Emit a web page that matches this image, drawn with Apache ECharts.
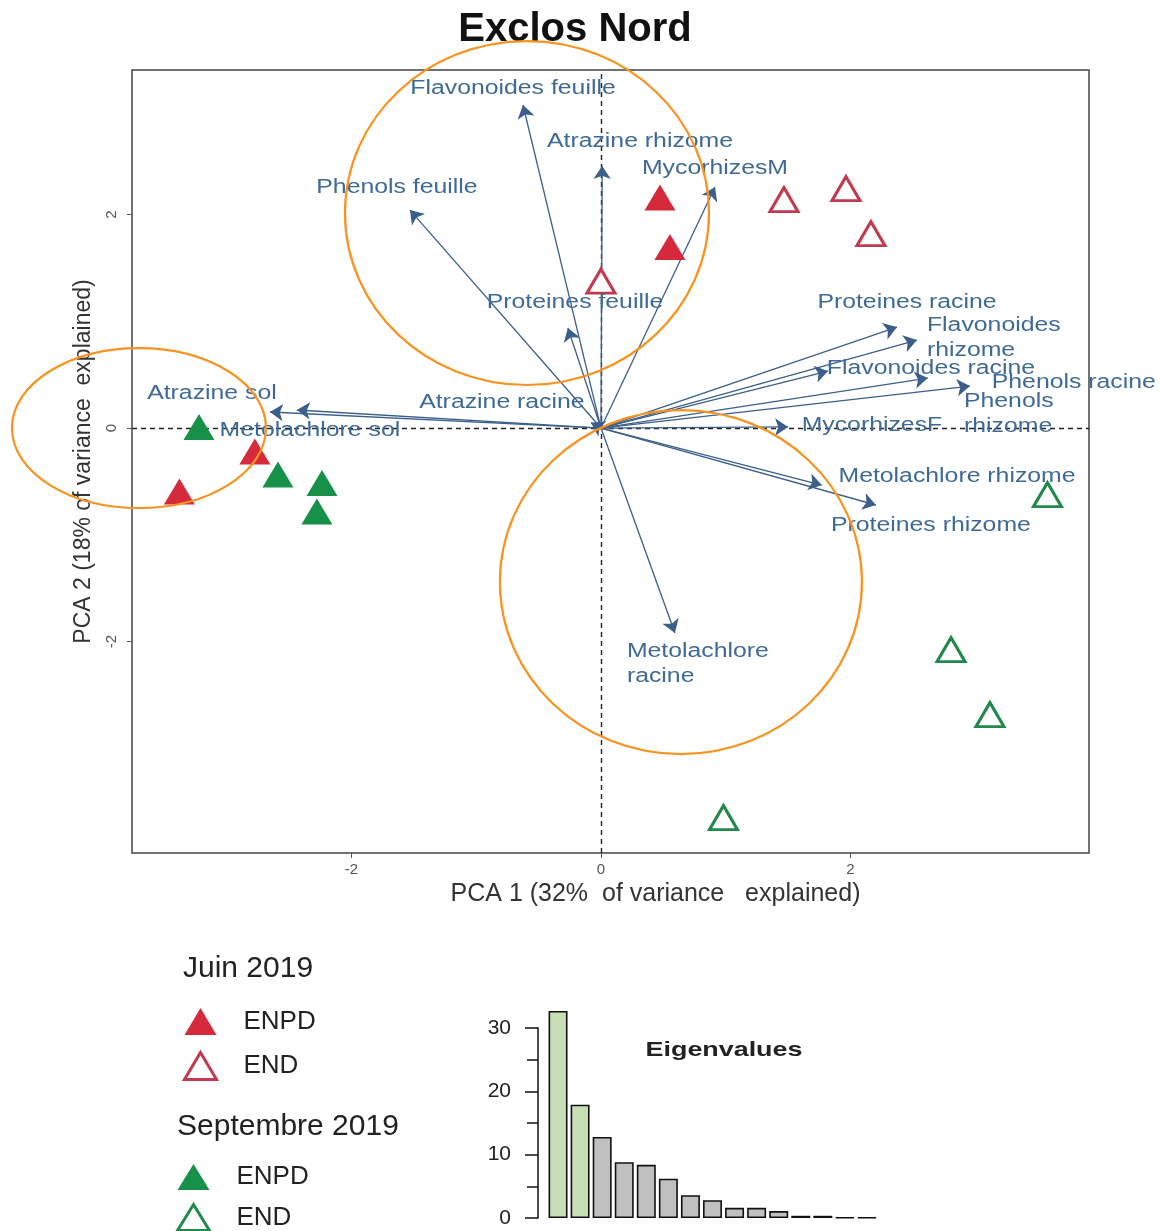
<!DOCTYPE html>
<html>
<head>
<meta charset="utf-8">
<script src="https://cdn.jsdelivr.net/npm/echarts@6/dist/echarts.min.js"></script>
<style>html,body{margin:0;padding:0;background:#fff}#chart{width:1162px;height:1231px}</style>
</head>
<body>
<div id="chart"></div>
<script>
// ---------------- DATA ----------------
var titleText = 'Exclos Nord';
var xAxisName = 'PCA 1 (32%  of variance   explained)';
var yAxisName = 'PCA 2 (18% of variance  explained)';
var pcaTicks = [-2, 0, 2];

// sample scores [PC1, PC2]
var juinENPD = [[0.473, 2.159], [0.553, 1.696], [-2.774, -0.22], [-3.379, -0.595]];
var juinEND  = [[0.0, 1.377], [1.467, 2.14], [1.964, 2.243], [2.164, 1.822]];
var septENPD = [[-3.222, 0.01], [-2.589, -0.436], [-2.236, -0.515], [-2.277, -0.782]];
var septEND  = [[3.579, -0.623], [2.806, -2.075], [3.118, -2.684], [0.982, -3.649]];

// variable loadings (arrow tips)
var variables = ['Flavonoides feuille', 'Atrazine rhizome', 'MycorhizesM', 'Phenols feuille',
  'Proteines feuille', 'Atrazine sol', 'Metolachlore sol', 'Atrazine racine', 'Proteines racine',
  'Flavonoides rhizome', 'Flavonoides racine', 'Phenols racine', 'Phenols rhizome', 'MycorhizesF',
  'Metolachlore rhizome', 'Proteines rhizome', 'Metolachlore racine'];
var loadPC1 = [-0.625, 0.01, 0.914, -1.531, -0.265, -2.653, -2.437, -0.08, 2.373, 2.533, 2.62, 2.958, 1.82, 1.5, 1.77, 2.204, 0.593];
var loadPC2 = [3.026, 2.454, 2.258, 2.042, 0.937, 0.15, 0.169, 0.05, 0.946, 0.824, 0.468, 0.393, 0.534, 0.01, -0.534, -0.721, -1.92];

// eigenvalues (bar inset)
var eigenvalues = [32.7, 17.9, 12.8, 8.8, 8.4, 6.2, 3.6, 2.8, 1.6, 1.6, 1.1, 0.35, 0.35, 0.1, 0.1];
var eigenAxes = ['1','2','3','4','5','6','7','8','9','10','11','12','13','14','15'];

// legend
var legendGroups = ['Juin 2019', 'Septembre 2019'];

// ---------------- LAYOUT / STYLE ----------------
var FONT = "'Liberation Sans', Arial, sans-serif";
var X_MIN = -3.759, X_MAX = 3.912, Y_MIN = -3.981, Y_MAX = 3.354;

// label anchors in data units (text placement), alignment and display text
var labelAnchors = [[-0.705, 3.185], [0.313, 2.689], [0.914, 2.436], [-1.635, 2.258], [-0.208, 1.18],
  [-3.118, 0.328], [-2.333, -0.019], [-0.794, 0.244], [2.453, 1.18], [2.613, 0.848], [2.645, 0.562],
  [3.79, 0.431], [2.91, 0.131], [2.172, 0.028], [2.854, -0.45], [2.645, -0.909], [0.208, -2.211]];
var labelAlign = ['center','center','center','center','center','center','center','center','center',
  'left','center','center','left','center','center','center','left'];
var labelText = variables.map(function (v) {
  if (v === 'Flavonoides rhizome') return 'Flavonoides\nrhizome';
  if (v === 'Phenols rhizome') return 'Phenols\nrhizome';
  if (v === 'Metolachlore racine') return 'Metolachlore\nracine';
  return v;
});

// orange highlight ellipses [cx, cy, rx, ry] in data units
var highlights = [[-0.593, 2.014, 1.459, 1.611], [-3.703, 0.0, 1.018, 0.749], [0.641, -1.443, 1.451, 1.611]];

var RED = '#d42a3c', RED_OPEN = '#c23a50', GREEN = '#17914a', GREEN_OPEN = '#22884b';

var chart = echarts.init(document.getElementById('chart'), null, {renderer: 'canvas'});

var option = {
  backgroundColor: '#fff',
  animation: false,
  textStyle: {fontFamily: FONT},
  title: [{
    text: titleText, left: 570, textAlign: 'center', top: 5,
    textStyle: {fontSize: 40, fontWeight: 'bold', color: '#111', fontFamily: FONT}
  }],
  legend: [{
    data: [{name: 'Juin ENPD', itemStyle: {color: RED}},
           {name: 'Juin END', itemStyle: {color: '#fff', borderColor: RED_OPEN, borderWidth: 3}}],
    orient: 'vertical', left: 183, top: 1008, height: 90, padding: 0, itemWidth: 32, itemHeight: 27, itemGap: 16,
    selectedMode: false,
    formatter: function (n) { return n.split(' ')[1]; },
    textStyle: {fontSize: 26, color: '#222', lineHeight: 27, padding: [0, 0, 0, 22], fontFamily: FONT}
  }, {
    data: [{name: 'Sept ENPD', itemStyle: {color: GREEN}},
           {name: 'Sept END', itemStyle: {color: '#fff', borderColor: GREEN_OPEN, borderWidth: 3}}],
    orient: 'vertical', left: 176, top: 1164, height: 90, padding: 0, itemWidth: 32, itemHeight: 26, itemGap: 13,
    selectedMode: false,
    formatter: function (n) { return n.split(' ')[1]; },
    textStyle: {fontSize: 26, color: '#222', lineHeight: 26, padding: [0, 0, 0, 22], fontFamily: FONT}
  }],
  graphic: [
    {type: 'text', x: 183, y: 969, style: {text: legendGroups[0], font: '30px ' + FONT, fill: '#222', align: 'left', verticalAlign: 'middle'}},
    {type: 'text', x: 177, y: 1127, style: {text: legendGroups[1], font: '30px ' + FONT, fill: '#222', align: 'left', verticalAlign: 'middle'}},
    {type: 'text', x: 724, y: 1050, scaleX: 1.28, style: {text: 'Eigenvalues', font: 'bold 21px ' + FONT, fill: '#222', align: 'center', verticalAlign: 'middle'}}
  ],
  grid: [
    {left: 132, top: 70, width: 957, height: 783, show: true, borderColor: '#444', borderWidth: 1.5, backgroundColor: 'transparent'},
    {left: 547, top: 1028, width: 331, height: 190}
  ],
  xAxis: [{
    type: 'value', gridIndex: 0, min: X_MIN, max: X_MAX,
    axisLine: {show: false, onZero: false}, splitLine: {show: false},
    axisTick: {show: true, length: 5, customValues: pcaTicks, lineStyle: {color: '#555'}},
    axisLabel: {customValues: pcaTicks, color: '#555', fontSize: 15, margin: 9, fontFamily: FONT},
    name: xAxisName, nameLocation: 'middle', nameGap: 24,
    nameTextStyle: {fontSize: 25, color: '#333', padding: [0, 0, 0, 90], fontFamily: FONT}
  }, {
    type: 'category', gridIndex: 1, data: eigenAxes, show: false
  }],
  yAxis: [{
    type: 'value', gridIndex: 0, min: Y_MIN, max: Y_MAX,
    axisLine: {show: false, onZero: false}, splitLine: {show: false},
    axisTick: {show: true, length: 5, customValues: pcaTicks, lineStyle: {color: '#555'}},
    axisLabel: {customValues: pcaTicks, rotate: 90, color: '#555', fontSize: 15, margin: 13, fontFamily: FONT},
    name: yAxisName, nameLocation: 'middle', nameGap: 37,
    nameTextStyle: {fontSize: 23, color: '#333', fontFamily: FONT}
  }, {
    type: 'value', gridIndex: 1, min: 0, max: 30, interval: 10, offset: 9,
    axisLine: {show: true, onZero: false, lineStyle: {color: '#111', width: 1.5}},
    axisTick: {show: true, length: 13, lineStyle: {color: '#111', width: 1.5}},
    minorTick: {show: true, splitNumber: 2, length: 11, lineStyle: {color: '#111', width: 1.5}},
    splitLine: {show: false}, minorSplitLine: {show: false},
    axisLabel: {fontSize: 21, color: '#222', margin: 27, fontFamily: FONT}
  }],
  series: [
    // dashed zero lines
    {
      type: 'lines', coordinateSystem: 'cartesian2d', xAxisIndex: 0, yAxisIndex: 0, z: 1, silent: true,
      symbol: 'none',
      lineStyle: {color: '#222', width: 1.4, type: [5, 4], opacity: 1},
      data: [{coords: [[0, Y_MIN], [0, Y_MAX]]}, {coords: [[X_MIN, 0], [X_MAX, 0]]}]
    },
    // variable arrows
    {
      type: 'lines', coordinateSystem: 'cartesian2d', xAxisIndex: 0, yAxisIndex: 0, z: 2, silent: true,
      symbol: ['none', 'arrow'], symbolSize: 13,
      lineStyle: {color: '#3b5f8a', width: 1.3, opacity: 1},
      data: variables.map(function (v, i) { return {name: v, coords: [[0, 0], [loadPC1[i], loadPC2[i]]]}; })
    },
    {name: 'Juin ENPD', type: 'scatter', xAxisIndex: 0, yAxisIndex: 0, z: 3, symbol: 'triangle', symbolSize: [31, 26],
      itemStyle: {color: RED, opacity: 1}, data: juinENPD},
    {name: 'Juin END', type: 'scatter', xAxisIndex: 0, yAxisIndex: 0, z: 3, symbol: 'triangle', symbolSize: [28, 24],
      itemStyle: {color: '#fff', borderColor: RED_OPEN, borderWidth: 3, opacity: 1}, data: juinEND},
    {name: 'Sept ENPD', type: 'scatter', xAxisIndex: 0, yAxisIndex: 0, z: 3, symbol: 'triangle', symbolSize: [31, 26],
      itemStyle: {color: GREEN, opacity: 1}, data: septENPD},
    {name: 'Sept END', type: 'scatter', xAxisIndex: 0, yAxisIndex: 0, z: 3, symbol: 'triangle', symbolSize: [28, 24],
      itemStyle: {color: '#fff', borderColor: GREEN_OPEN, borderWidth: 3, opacity: 1}, data: septEND},
    // variable labels
    {
      type: 'custom', coordinateSystem: 'cartesian2d', xAxisIndex: 0, yAxisIndex: 0, z: 5, silent: true, clip: false,
      data: labelAnchors.map(function (p, i) { return [p[0], p[1], i]; }),
      renderItem: function (params, api) {
        var i = api.value(2);
        var p = api.coord([api.value(0), api.value(1)]);
        return {
          type: 'text', x: p[0], y: p[1], scaleX: 1.24,
          style: {text: labelText[i], fill: '#3f6a96', font: '20px ' + FONT,
                  align: labelAlign[i], verticalAlign: 'middle', lineHeight: 25}
        };
      }
    },
    // orange highlight ellipses
    {
      type: 'custom', coordinateSystem: 'cartesian2d', xAxisIndex: 0, yAxisIndex: 0, z: 10, silent: true, clip: false,
      data: highlights,
      renderItem: function (params, api) {
        var c = api.coord([api.value(0), api.value(1)]);
        var s = api.size([api.value(2), api.value(3)]);
        return {
          type: 'ellipse', shape: {cx: c[0], cy: c[1], rx: s[0], ry: s[1]},
          style: {fill: null, stroke: '#f7931e', lineWidth: 2.2}
        };
      }
    },
    // eigenvalue bars
    {
      type: 'bar', xAxisIndex: 1, yAxisIndex: 1, barCategoryGap: '14%', clip: false, silent: true,
      itemStyle: {borderColor: '#111', borderWidth: 1.6},
      data: eigenvalues.map(function (v, i) {
        return {value: v, itemStyle: {color: i < 2 ? '#c6dfb4' : '#c0c0c0'}};
      })
    }
  ]
};
chart.setOption(option);
</script>
</body>
</html>
